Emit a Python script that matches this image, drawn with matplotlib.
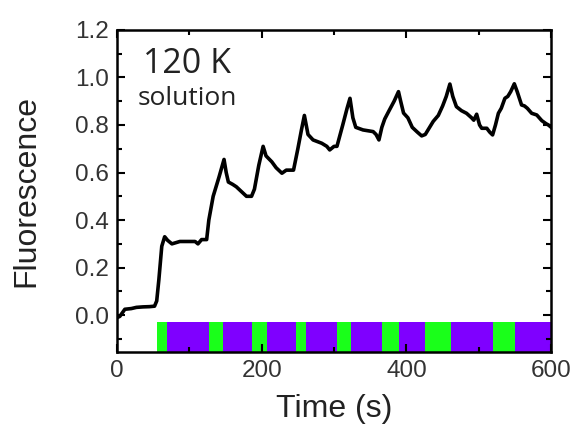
import matplotlib
matplotlib.use("Agg")
import matplotlib.pyplot as plt
from matplotlib.ticker import MultipleLocator

# fluorescence trace
time_s = [0, 4, 11, 20, 27, 36, 45, 52, 55, 58, 62, 66, 70, 76, 87, 95, 101,
          108, 112, 117, 124, 127, 133, 141, 148, 151, 154, 160, 165, 172, 179,
          186, 190, 196, 202, 206, 214, 220, 228, 234, 244, 250, 255, 259, 264,
          271, 283, 290, 294, 300, 304, 312, 318, 322, 326, 330, 340, 348, 354,
          358, 362, 366, 370, 376, 383, 389, 392, 396, 402, 408, 415, 421, 426,
          430, 437, 444, 450, 455, 460, 464, 469, 476, 483, 490, 493, 497, 501,
          504, 511, 515, 519, 523, 527, 531, 536, 540, 544, 549, 553, 559, 563,
          567, 573, 580, 587, 593, 596, 600]
fluor = [-0.01, -0.005, 0.025, 0.028, 0.033, 0.035, 0.036, 0.038, 0.06, 0.15,
         0.29, 0.33, 0.315, 0.30, 0.31, 0.31, 0.31, 0.31, 0.30, 0.318, 0.318,
         0.40, 0.50, 0.58, 0.655, 0.60, 0.56, 0.55, 0.54, 0.52, 0.50, 0.50,
         0.53, 0.63, 0.71, 0.67, 0.645, 0.62, 0.597, 0.61, 0.61, 0.70, 0.78,
         0.84, 0.76, 0.737, 0.723, 0.71, 0.695, 0.71, 0.71, 0.80, 0.87, 0.912,
         0.83, 0.79, 0.779, 0.775, 0.772, 0.76, 0.737, 0.79, 0.825, 0.86, 0.90,
         0.94, 0.90, 0.85, 0.83, 0.79, 0.77, 0.754, 0.76, 0.78, 0.815, 0.84,
         0.88, 0.92, 0.972, 0.92, 0.877, 0.86, 0.849, 0.83, 0.82, 0.845, 0.80,
         0.786, 0.786, 0.77, 0.758, 0.80, 0.849, 0.87, 0.912, 0.92, 0.94, 0.973,
         0.94, 0.884, 0.88, 0.87, 0.849, 0.842, 0.818, 0.805, 0.80, 0.79]

# illumination periods (start, end) in s
green_on = [(55.7, 68.7), (127, 146), (186, 207), (247.5, 261),
            (304.6, 323), (366, 390), (426, 462), (519, 550)]
purple_on = [(68.7, 127), (146, 186), (207, 247.5), (261, 304.6),
             (323, 366), (390, 426), (462, 519), (550, 600)]

plt.rcParams['font.family'] = ['Liberation Sans', 'DejaVu Sans']

fig = plt.figure(figsize=(5.73, 4.32), dpi=100)
ax = fig.add_axes([0.204, 0.185, 0.758, 0.746])

bar_y = (-0.16, 0.13)
ax.broken_barh([(a, b - a) for a, b in purple_on], bar_y, facecolor='#7f00ff',
               edgecolor='none', zorder=1)
ax.broken_barh([(a, b - a) for a, b in green_on], bar_y, facecolor='#1aff1a',
               edgecolor='none', zorder=1)

ax.plot(time_s, fluor, color='black', lw=2.6, zorder=3)

ax.set_xlim(0, 600)
ax.set_ylim(-0.155, 1.2)
ax.xaxis.set_major_locator(MultipleLocator(200))
ax.xaxis.set_minor_locator(MultipleLocator(100))
ax.yaxis.set_major_locator(MultipleLocator(0.2))
ax.yaxis.set_minor_locator(MultipleLocator(0.1))
ax.set_yticks([0.0, 0.2, 0.4, 0.6, 0.8, 1.0, 1.2])
ax.set_yticklabels(['0.0', '0.2', '0.4', '0.6', '0.8', '1.0', '1.2'])

ax.tick_params(which='both', direction='in', top=True, right=True,
               width=1.5, labelsize=17.5, labelcolor='#333333')
ax.tick_params(which='major', length=6, pad=6)
ax.tick_params(which='minor', length=3.5)
for sp in ax.spines.values():
    sp.set_linewidth(1.8)

ax.set_xlabel('Time (s)', fontsize=23, labelpad=8, color='#222222')
ax.set_ylabel('Fluorescence', fontsize=23, labelpad=24, color='#222222')

ax.text(0.162, 0.893, '120 K', transform=ax.transAxes, fontsize=24.5,
        family='Open Sans', ha='center', va='center', color='#222222')
ax.text(0.162, 0.788, 'solution', transform=ax.transAxes, fontsize=19,
        family='Open Sans', ha='center', va='center', color='#222222')

fig.savefig('out.png', dpi=100)
